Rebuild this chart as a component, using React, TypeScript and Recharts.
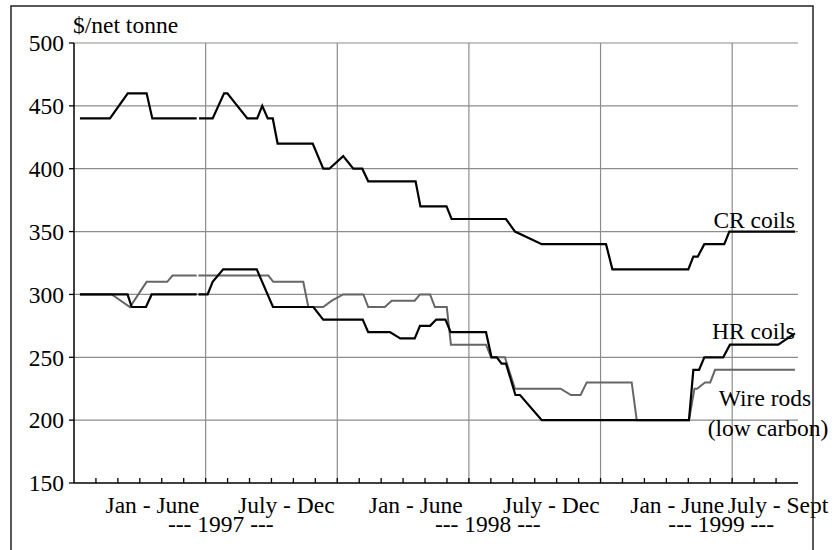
import React from "react";
import { LineChart, Line, XAxis, YAxis, CartesianGrid } from "recharts";

// months since Jan 1997 (0 = start of Jan 1997), price in $/net tonne
// null breaks the line (small gap at end of June 1997)
const crCoils: [number, number | null][] = [
  [0.27, 440], [1.64, 440], [2.45, 460], [3.31, 460], [3.57, 440], [5.59, 440],
  [5.63, null],
  [5.7, 440], [6.32, 440], [6.84, 460], [6.99, 460], [7.9, 440], [8.35, 440],
  [8.58, 450], [8.83, 440], [9.06, 440], [9.28, 420], [10.88, 420], [11.36, 400],
  [11.64, 400], [12.27, 410], [12.73, 400], [13.14, 400], [13.41, 390], [15.57, 390],
  [15.79, 370], [16.98, 370], [17.21, 360], [19.69, 360], [20.1, 350], [21.32, 340],
  [24.25, 340], [24.54, 320], [28.0, 320], [28.23, 330], [28.43, 330], [28.73, 340],
  [29.64, 340], [29.87, 350], [32.86, 350],
];

const hrCoils: [number, number | null][] = [
  [0.27, 300], [2.44, 300], [2.63, 290], [3.28, 290], [3.54, 300], [5.59, 300],
  [5.63, null],
  [5.67, 300], [6.09, 300], [6.32, 310], [6.8, 320], [8.33, 320], [9.07, 290],
  [10.91, 290], [11.36, 280], [13.16, 280], [13.41, 270], [14.4, 270], [14.87, 265],
  [15.53, 265], [15.77, 275], [16.23, 275], [16.51, 280], [16.93, 280], [17.17, 270],
  [18.78, 270], [19.03, 250], [19.27, 250], [19.49, 245], [19.69, 245], [20.12, 220],
  [20.33, 220], [21.32, 200], [28.03, 200], [28.23, 240], [28.49, 240], [28.73, 250],
  [29.59, 250], [29.9, 260], [32.1, 260], [32.86, 269],
];

const wireRods: [number, number | null][] = [
  [0.27, 300], [1.72, 300], [2.55, 290], [3.31, 310], [4.25, 310], [4.49, 315],
  [5.59, 315],
  [5.63, null],
  [5.67, 315], [8.86, 315], [9.08, 310], [10.45, 310], [10.68, 290], [11.36, 290],
  [11.75, 295], [12.27, 300], [13.19, 300], [13.41, 290], [14.17, 290], [14.48, 295],
  [15.53, 295], [15.77, 300], [16.23, 300], [16.45, 290], [16.99, 290], [17.18, 260],
  [18.78, 260], [19.01, 250], [19.64, 250], [20.1, 225], [22.18, 225], [22.65, 220],
  [23.09, 220], [23.37, 230], [25.42, 230], [25.65, 200], [28.03, 200], [28.28, 225],
  [28.4, 225], [28.76, 230], [29.0, 230], [29.22, 240], [32.86, 240],
];

const yTicks = [150, 200, 250, 300, 350, 400, 450, 500];
const gridValues = [200, 250, 300, 350, 400, 450, 500];
const halfYearBounds = [6, 12, 18, 24, 30];
const monthTicks = Array.from({ length: 33 }, (_, i) => i);
const halfLabels = ["Jan - June", "July - Dec", "Jan - June", "July - Dec", "Jan - June", "July - Sept"];
const halfCentres = [3, 9, 15, 21, 27, 31.5];
const halfShift = [12.7, 14.9, 12.7, 16.6, 10.9, 12.9];
const yearLabels = ["--- 1997 ---", "--- 1998 ---", "--- 1999 ---"];
const yearCentres = [6, 18, 28.5];
const yearShift = [15.2, 18.9, 21.9];

const toRows = (pts: [number, number | null][]) => pts.map(([m, v]) => ({ m, v }));

const FONT = "'Liberation Serif', 'Times New Roman', serif";
const FS = 23.5;

const allTicks = Array.from(new Set([...monthTicks, ...halfCentres, ...yearCentres])).sort((a, b) => a - b);

function MonthTick(props: any) {
  const { x, y, payload } = props;
  const v = payload.value;
  const hi = halfCentres.indexOf(v);
  const yi = yearCentres.indexOf(v);
  return (
    <g>
      {Number.isInteger(v) && v > 0 && (
        <line x1={x} x2={x} y1={y} y2={y - 5} stroke="#000" strokeWidth={1.3} />
      )}
      {hi >= 0 && (
        <text x={x + halfShift[hi]} y={y + 30} textAnchor="middle" fontFamily={FONT} fontSize={FS} fill="#000">
          {halfLabels[hi]}
        </text>
      )}
      {yi >= 0 && (
        <text x={x + yearShift[yi]} y={y + 49} textAnchor="middle" fontFamily={FONT} fontSize={FS} fill="#000">
          {yearLabels[yi]}
        </text>
      )}
    </g>
  );
}

export default function App() {
  const textStyle = { fontFamily: FONT, fontSize: FS, fill: "#000" };
  return (
    <div style={{ position: "absolute", left: 0, top: 0, width: 835, height: 550, background: "#fff" }}>
      <LineChart width={835} height={550} margin={{ top: 43, right: 37, bottom: 7, left: 14 }}>
        <CartesianGrid
          stroke="#8c8c8c"
          strokeWidth={1.2}
          horizontalValues={gridValues}
          verticalValues={halfYearBounds}
        />
        <XAxis
          dataKey="m"
          type="number"
          domain={[0, 33]}
          ticks={allTicks}
          interval={0}
          tick={<MonthTick />}
          tickLine={false}
          tickSize={0}
          tickMargin={0}
          height={60}
          axisLine={{ stroke: "#000", strokeWidth: 1.5 }}
        />
        <YAxis
          domain={[150, 500]}
          ticks={yTicks}
          interval={0}
          width={60}
          tickSize={5}
          tickMargin={5}
          tick={textStyle}
          tickLine={{ stroke: "#000", strokeWidth: 1.3 }}
          axisLine={{ stroke: "#000", strokeWidth: 1.5 }}
        />
        <Line data={toRows(wireRods)} dataKey="v" type="linear" stroke="#666" strokeWidth={2} dot={false} isAnimationActive={false} />
        <Line data={toRows(hrCoils)} dataKey="v" type="linear" stroke="#000" strokeWidth={2.2} dot={false} isAnimationActive={false} />
        <Line data={toRows(crCoils)} dataKey="v" type="linear" stroke="#000" strokeWidth={2.2} dot={false} isAnimationActive={false} />
      </LineChart>
      <svg width={835} height={550} style={{ position: "absolute", left: 0, top: 0, pointerEvents: "none" }}>
        <path d="M11,550 V6 H813 V550" fill="none" stroke="#222" strokeWidth={1.5} />
        <text x={73} y={33} {...textStyle}>$/net tonne</text>
        <text x={795} y={228} textAnchor="end" {...textStyle}>CR coils</text>
        <text x={795} y={339} textAnchor="end" {...textStyle}>HR coils</text>
        <text x={765} y={406} textAnchor="middle" {...textStyle}>Wire rods</text>
        <text x={768} y={436} textAnchor="middle" {...textStyle}>(low carbon)</text>
      </svg>
    </div>
  );
}
